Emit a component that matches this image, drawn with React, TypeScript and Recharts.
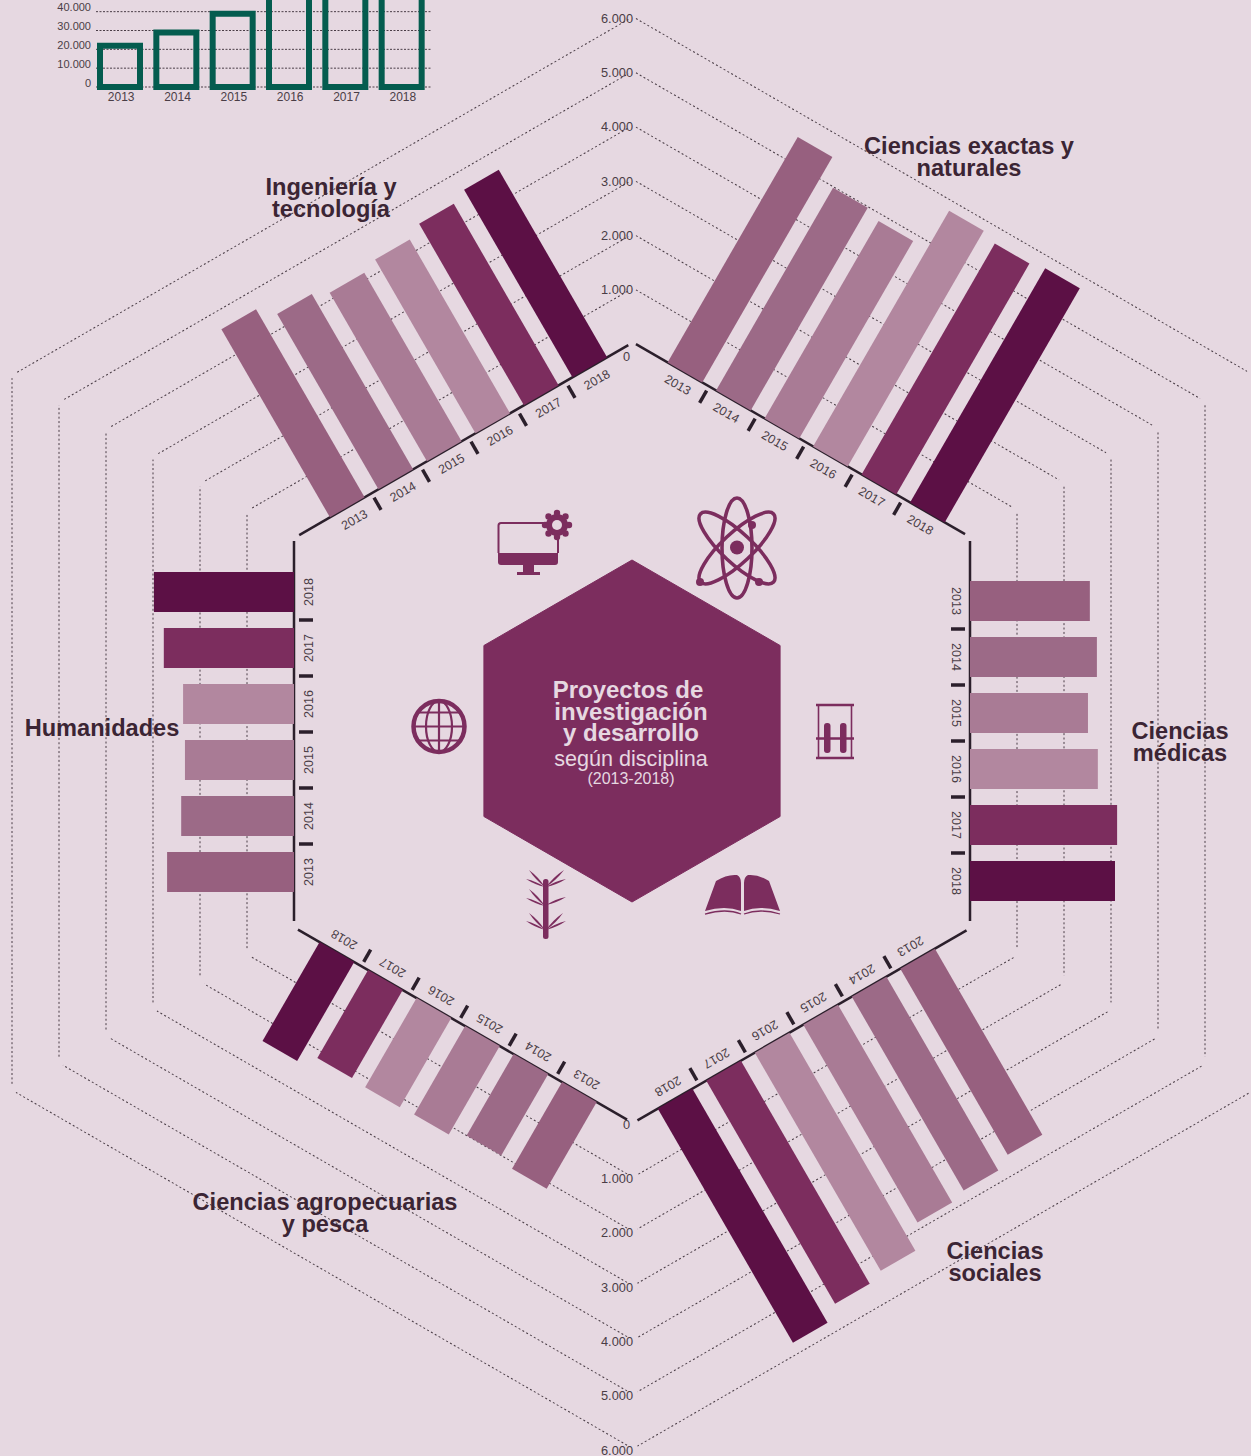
import React from "react";
import { BarChart, Bar, XAxis, YAxis, CartesianGrid, Cell, RadarChart, Radar, PolarRadiusAxis } from "recharts";

const YEARS = ["2013", "2014", "2015", "2016", "2017", "2018"];
const EXACTAS = [5540, 4980, 4850, 5790, 5670, 5750];
const MEDICAS = [2550, 2700, 2510, 2720, 3130, 3085];
const SOCIALES = [4570, 4760, 4860, 5360, 5480, 5750];
const AGRO = [2130, 2000, 2170, 2190, 2160, 2430];
const HUMANIDADES = [2700, 2400, 2320, 2360, 2770, 2980];
const INGENIERIA = [4620, 4310, 4140, 4270, 4460, 4610];
const TOTALS = [21900, 29000, 38900, 48000, 50000, 52000];
const TOTAL_TICKS = [0, 10000, 20000, 30000, 40000];
const VALUE_TICKS = [0, 1000, 2000, 3000, 4000, 5000, 6000];
const BAR_COLORS = ["#97607f", "#9c6a87", "#a97b95", "#b2879f", "#7c2d5e", "#5c1045"];
const HEX_POINTS = ["a", "b", "c", "d", "e", "f"];

const BG = "#e6d8e1";
const PLUM = "#7c2d5e";
const INK = "#2b1f2b";
const LABEL = "#4a3d46";
const GREEN = "#045c4f";
const FONT = "'Liberation Sans', Arial, sans-serif";

const CX = 632;
const CY = 731;
const APOTHEM = 337;
const SIDE = 388;
const PLOT_W = 336;
const PLOT_H = 282;
const CHART_W = 760;
const TOP_PAD = 2;
const AXIS_H = 30;
const VERTEX_GAP = 4;

const fmt = (v: number) => String(v).replace(/\B(?=(\d{3})+$)/g, ".");

function Sector({ values, angle, shift, lift }: { values: number[]; angle: number; shift: number; lift: number }) {
  const data = YEARS.map((year, i) => ({ year, value: values[i] }));
  const side = (CHART_W - PLOT_W) / 2;
  const bottom = TOP_PAD + PLOT_H;
  const ring = (p: any) => {
    const h = bottom - p.y1;
    const half = SIDE / 2 + h * Math.tan(Math.PI / 6) - VERTEX_GAP;
    const mid = CHART_W / 2;
    if (h < 1) return <line key={p.key} x1={mid - half} x2={mid + half} y1={p.y1} y2={p.y1} stroke={INK} strokeWidth={2.5} />;
    return <line key={p.key} x1={mid - half} x2={mid + half} y1={p.y1} y2={p.y1} stroke={LABEL} strokeWidth={1} strokeDasharray="2 2.4" />;
  };
  const tick = (p: any) => {
    const band = PLOT_W / YEARS.length;
    return (
      <g>
        <text x={p.x} y={p.y + 14.5} textAnchor="middle" dominantBaseline="central" fontSize={12.5} fontFamily={FONT} fill={LABEL}>
          {p.payload.value}
        </text>
        {p.index < YEARS.length - 1 && (
          <line x1={p.x + band / 2} x2={p.x + band / 2} y1={p.y + 5} y2={p.y + 19} stroke={INK} strokeWidth={3.5} />
        )}
      </g>
    );
  };
  const distance = APOTHEM + lift;
  return (
    <div
      style={{
        position: "absolute",
        left: CX - CHART_W / 2,
        top: CY - distance - PLOT_H - TOP_PAD,
        transformOrigin: `${CHART_W / 2}px ${distance + PLOT_H + TOP_PAD}px`,
        transform: `rotate(${angle}deg)`,
      }}
    >
      <BarChart
        width={CHART_W}
        height={TOP_PAD + PLOT_H + AXIS_H}
        data={data}
        barSize={40}
        margin={{ top: TOP_PAD, bottom: 0, left: side + shift, right: side - shift }}
      >
        <CartesianGrid horizontal={ring} vertical={false} />
        <XAxis dataKey="year" height={AXIS_H} axisLine={false} tickLine={false} tickSize={0} tickMargin={0} tick={tick} interval={0} />
        <YAxis hide domain={[0, 6000]} ticks={VALUE_TICKS} interval={0} />
        <Bar dataKey="value" isAnimationActive={false}>
          {data.map((d, i) => (
            <Cell key={d.year} fill={BAR_COLORS[i]} />
          ))}
        </Bar>
      </BarChart>
    </div>
  );
}

function ValueAxis({ angle }: { angle: number }) {
  const data = HEX_POINTS.map((k) => ({ k, v: 6000 }));
  const tick = (p: any) => (
    <text
      x={p.x + (p.payload.value === 0 ? -3 : 0)}
      y={p.y + (p.payload.value === 0 && angle === 90 ? 12 : 0)}
      textAnchor="end"
      dominantBaseline="central"
      fontSize={12.8}
      fontFamily={FONT}
      fill={LABEL}
    >
      {fmt(p.payload.value)}
    </text>
  );
  return (
    <div style={{ position: "absolute", left: 0, top: 0 }}>
      <RadarChart width={1251} height={1456} cx={633} cy={734} innerRadius={390} outerRadius={716} data={data} margin={{ top: 0, right: 0, bottom: 0, left: 0 }}>
        <PolarRadiusAxis angle={angle} domain={[0, 6000]} tickCount={VALUE_TICKS.length} axisLine={false} tickLine={false} tick={tick} />
        <Radar dataKey="v" fill="none" stroke="none" isAnimationActive={false} />
      </RadarChart>
    </div>
  );
}

function CenterHex() {
  const data = HEX_POINTS.map((k) => ({ k, v: 1 }));
  return (
    <div style={{ position: "absolute", left: 432, top: 531 }}>
      <RadarChart width={400} height={400} cx={200} cy={200} outerRadius={171} data={data}>
        <PolarRadiusAxis domain={[0, 1]} tick={false} axisLine={false} tickLine={false} />
        <Radar dataKey="v" fill={PLUM} fillOpacity={1} stroke={PLUM} isAnimationActive={false} />
      </RadarChart>
    </div>
  );
}

function TotalsChart() {
  const data = YEARS.map((year, i) => ({ year, total: TOTALS[i] }));
  const grid = (p: any) =>
    p.y1 < 26 ? <g key={p.key} /> : <line key={p.key} x1={96} x2={431} y1={p.y1} y2={p.y1} stroke={LABEL} strokeWidth={1} strokeDasharray="2 1.5" />;
  const yTick = (p: any) => (
    <text x={91} y={p.y - 4.5} textAnchor="end" dominantBaseline="central" fontSize={11} fontFamily={FONT} fill={LABEL}>
      {fmt(p.payload.value)}
    </text>
  );
  const xTick = (p: any) => (
    <text x={p.x + 1} y={p.y + 10} textAnchor="middle" dominantBaseline="central" fontSize={12} fontFamily={FONT} fill={LABEL}>
      {p.payload.value}
    </text>
  );
  return (
    <div style={{ position: "absolute", left: 0, top: -26 }}>
      <BarChart width={440} height={137} data={data} barSize={40} margin={{ top: 0, bottom: 0, left: 0, right: 10 }}>
        <CartesianGrid horizontal={grid} vertical={false} />
        <XAxis dataKey="year" height={24} axisLine={false} tickLine={false} tickSize={0} tickMargin={0} tick={xTick} interval={0} />
        <YAxis width={92} domain={[0, 60000]} ticks={TOTAL_TICKS} interval={0} axisLine={false} tickLine={false} tick={yTick} />
        <Bar dataKey="total" fill="none" stroke={GREEN} strokeWidth={6} isAnimationActive={false} />
      </BarChart>
    </div>
  );
}

function Title({ lines, x, y }: { lines: string[]; x: number; y: number }) {
  return (
    <div
      style={{
        position: "absolute",
        left: x - 200,
        top: y,
        width: 400,
        textAlign: "center",
        fontFamily: FONT,
        fontWeight: 700,
        fontSize: 23.6,
        lineHeight: "22px",
        color: "#3b2534",
        whiteSpace: "nowrap",
      }}
    >
      {lines.map((l) => (
        <div key={l}>{l}</div>
      ))}
    </div>
  );
}

function Icons() {
  const gearTeeth = [0, 45, 90, 135, 180, 225, 270, 315];
  const leaf = (x: number, y: number, tx: number, ty: number, key: string) => {
    const mx = (x + tx) / 2;
    const my = (y + ty) / 2;
    const dx = (ty - y) * 0.09;
    const dy = (x - tx) * 0.09;
    return <path key={key} d={`M${x} ${y}Q${mx + dx} ${my + dy} ${tx} ${ty}Q${mx - dx} ${my - dy} ${x} ${y}Z`} fill={PLUM} />;
  };
  return (
    <svg width={1251} height={1456} style={{ position: "absolute", left: 0, top: 0, pointerEvents: "none" }}>
      {/* atom */}
      <g fill="none" stroke={PLUM} strokeWidth={3.6}>
        <ellipse cx={737} cy={548} rx={15} ry={50} />
        <ellipse cx={737} cy={548} rx={15} ry={50} transform="rotate(47 737 548)" />
        <ellipse cx={737} cy={548} rx={15} ry={50} transform="rotate(-47 737 548)" />
      </g>
      <circle cx={737} cy={547.5} r={7} fill={PLUM} />
      <circle cx={752} cy={525} r={4} fill={PLUM} />
      <circle cx={700} cy={582} r={4} fill={PLUM} />
      <circle cx={759} cy={582} r={4} fill={PLUM} />
      {/* computer */}
      <path d="M547 523H501a2.5 2.5 0 0 0 -2.5 2.5V553" fill="none" stroke={PLUM} strokeWidth={2} />
      <path d="M558 530V553" fill="none" stroke={PLUM} strokeWidth={2} />
      <path d="M498 553H558V562a3 3 0 0 1 -3 3H501a3 3 0 0 1 -3 -3Z" fill={PLUM} />
      <rect x={523} y={565} width={11} height={8} fill={PLUM} />
      <rect x={517} y={572} width={23} height={3} fill={PLUM} />
      <circle cx={557} cy={525} r={11} fill={PLUM} />
      {gearTeeth.map((a) => (
        <circle key={a} cx={557 + 12 * Math.cos((a * Math.PI) / 180)} cy={525 + 12 * Math.sin((a * Math.PI) / 180)} r={3.2} fill={PLUM} />
      ))}
      <circle cx={557} cy={525} r={5} fill={BG} />
      {/* globe */}
      <g fill="none" stroke={PLUM}>
        <circle cx={439} cy={726.5} r={25.5} strokeWidth={4.5} />
        <ellipse cx={439} cy={726.5} rx={13} ry={25.5} strokeWidth={2.2} />
        <path d="M439 701V752M413 726.5H465M417 712.5H461M417 740.5H461" strokeWidth={2.2} />
      </g>
      {/* test tubes */}
      <path d="M816 705H854M816 738.5H854M816 758H854" stroke={PLUM} strokeWidth={2.5} />
      <path d="M818.5 705V758M851.5 705V758" stroke={PLUM} strokeWidth={1.6} />
      <rect x={824} y={723} width={6.5} height={30} rx={3} fill={PLUM} />
      <rect x={840} y={723} width={6.5} height={30} rx={3} fill={PLUM} />
      {/* book */}
      <path d="M705 911L716 881Q727 874 737 875Q741 877 741 883V911Q725 905 705 911Z" fill={PLUM} />
      <path d="M780 911L769 881Q758 874 748 875Q744 877 744 883V911Q760 905 780 911Z" fill={PLUM} />
      <path d="M705 914Q726 908 741 914M744 914Q760 908 780 914" fill="none" stroke={PLUM} strokeWidth={1.3} />
      {/* plant */}
      <rect x={543} y={879} width={5.5} height={60} rx={2.5} fill={PLUM} />
      {leaf(545, 887, 529, 870, "l1")}
      {leaf(545, 887, 526, 879, "l2")}
      {leaf(546, 887, 564, 870, "l3")}
      {leaf(546, 887, 566, 879, "l4")}
      {leaf(545, 906, 529, 889, "l5")}
      {leaf(545, 906, 526, 898, "l6")}
      {leaf(546, 905, 566, 897, "l7")}
      {leaf(545, 930, 529, 913, "l8")}
      {leaf(545, 930, 526, 921, "l9")}
      {leaf(546, 930, 563, 913, "l10")}
      {leaf(546, 930, 566, 921, "l11")}
    </svg>
  );
}

function CenterText() {
  const bold = ["Proyectos de", "investigación", "y desarrollo"];
  return (
    <div style={{ position: "absolute", left: 431, top: 679, width: 400, textAlign: "center", color: BG, fontFamily: FONT }}>
      {bold.map((l, i) => (
        <div key={l} style={{ fontWeight: 700, fontSize: 24, lineHeight: "21.5px", whiteSpace: "nowrap", marginLeft: i === 0 ? -6 : 0 }}>
          {l}
        </div>
      ))}
      <div style={{ fontSize: 21.6, lineHeight: "22px", marginTop: 4 }}>según disciplina</div>
      <div style={{ fontSize: 16, lineHeight: "18px" }}>(2013-2018)</div>
    </div>
  );
}

export default function App() {
  return (
    <div style={{ position: "absolute", left: 0, top: 0, width: 1251, height: 1456, overflow: "hidden", background: BG }}>
      <style>{`body{margin:0;background:${BG}}`}</style>
      <Sector values={EXACTAS} angle={30} shift={6.5} lift={0} />
      <Sector values={MEDICAS} angle={90} shift={10} lift={1} />
      <Sector values={SOCIALES} angle={150} shift={6.5} lift={3} />
      <Sector values={AGRO} angle={210} shift={5} lift={2} />
      <Sector values={HUMANIDADES} angle={270} shift={-1} lift={1} />
      <Sector values={INGENIERIA} angle={330} shift={5.5} lift={-0.5} />
      <ValueAxis angle={90} />
      <ValueAxis angle={270} />
      <CenterHex />
      <Icons />
      <CenterText />
      <TotalsChart />
      <Title lines={["Ciencias exactas y", "naturales"]} x={969} y={135} />
      <Title lines={["Ingeniería y", "tecnología"]} x={331} y={176} />
      <Title lines={["Ciencias", "médicas"]} x={1180} y={720} />
      <Title lines={["Humanidades"]} x={102} y={717} />
      <Title lines={["Ciencias", "sociales"]} x={995} y={1240} />
      <Title lines={["Ciencias agropecuarias", "y pesca"]} x={325} y={1191} />
    </div>
  );
}
